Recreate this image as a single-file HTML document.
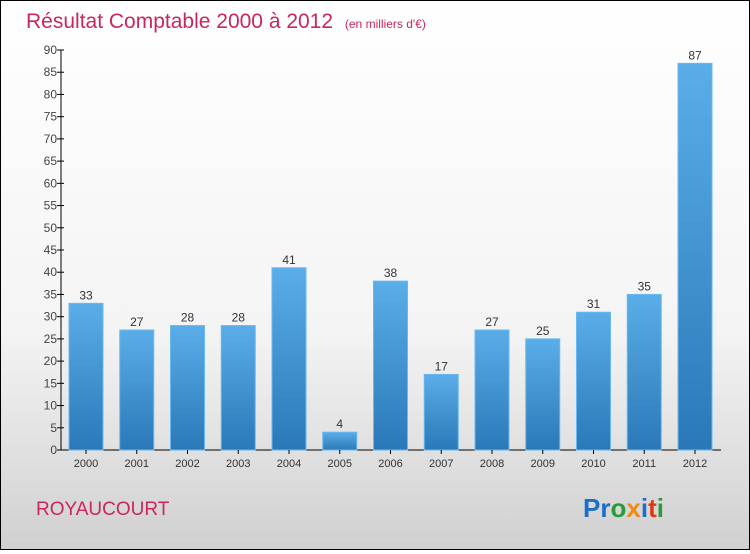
<!DOCTYPE html>
<html><head><meta charset="utf-8"><style>
body{margin:0;width:750px;height:550px;overflow:hidden;font-family:"Liberation Sans",sans-serif}
#c{position:absolute;left:0;top:0;width:748px;height:548px;border:1px solid #000;background:linear-gradient(#fff 0%,#f4f4f4 60%,#d0d0d0 100%)}
</style></head><body>
<div id="c">
<svg width="748" height="548" id="s">
<defs><linearGradient id="g" x1="0" y1="0" x2="0" y2="1"><stop offset="0" stop-color="#5aaee8"/><stop offset="1" stop-color="#2a78b8"/></linearGradient></defs>
<text x="25" y="27" font-size="21" fill="#c8285a">Résultat Comptable 2000 à 2012 <tspan font-size="12" dx="6">(en milliers d'€)</tspan></text>
<text x="35" y="514" font-size="19" fill="#c8285a">ROYAUCOURT</text>
<text x="582" y="516" font-size="26" font-weight="bold"><tspan fill="#1a6fc8">Pr</tspan><tspan fill="#2a9a3a">o</tspan><tspan fill="#f08a10">x</tspan><tspan fill="#1a6fc8">i</tspan><tspan fill="#e03a10">t</tspan><tspan fill="#2a9a3a">i</tspan></text>
<g id="ax"></g>
</svg></div>
<script>
const years=["2000","2001","2002","2003","2004","2005","2006","2007","2008","2009","2010","2011","2012"];
const values=[33,27,28,28,41,4,38,17,27,25,31,35,87];
const ticks=[0,5,10,15,20,25,30,35,40,45,50,55,60,65,70,75,80,85,90];
const ns="http://www.w3.org/2000/svg",g=document.getElementById('ax');
const y=v=>449-v*400/90, x=i=>85+i*50.75;
function mk(t,a,txt){const e=document.createElementNS(ns,t);for(const k in a)e.setAttribute(k,a[k]);if(txt!=null)e.textContent=txt;g.appendChild(e);return e;}
let l=mk('line',{x1:60,y1:49,x2:60,y2:449,stroke:'#000'});

l=mk('line',{x1:60,y1:449,x2:720,y2:449,stroke:'#000'});

ticks.forEach(t=>{mk('line',{x1:56,x2:63,y1:y(t),y2:y(t),stroke:'#000'});
const e=mk('text',{x:56,y:y(t)+4,'font-size':12,fill:'#444','text-anchor':'end'},t);
});
values.forEach((v,i)=>{const b=mk('rect',{x:x(i)-17,y:y(v),width:34,height:449-y(v),fill:'url(#g)',stroke:'#6ab8f0','stroke-width':1});

const t=mk('text',{x:x(i),y:y(v)-4,'font-size':12,fill:'#333','text-anchor':'middle'},v);

mk('line',{x1:x(i),x2:x(i),y1:449,y2:453,stroke:'#000'});
const yl=mk('text',{x:x(i),y:466,'font-size':11,fill:'#333','text-anchor':'middle'},years[i]);
});
</script>
</body></html>
